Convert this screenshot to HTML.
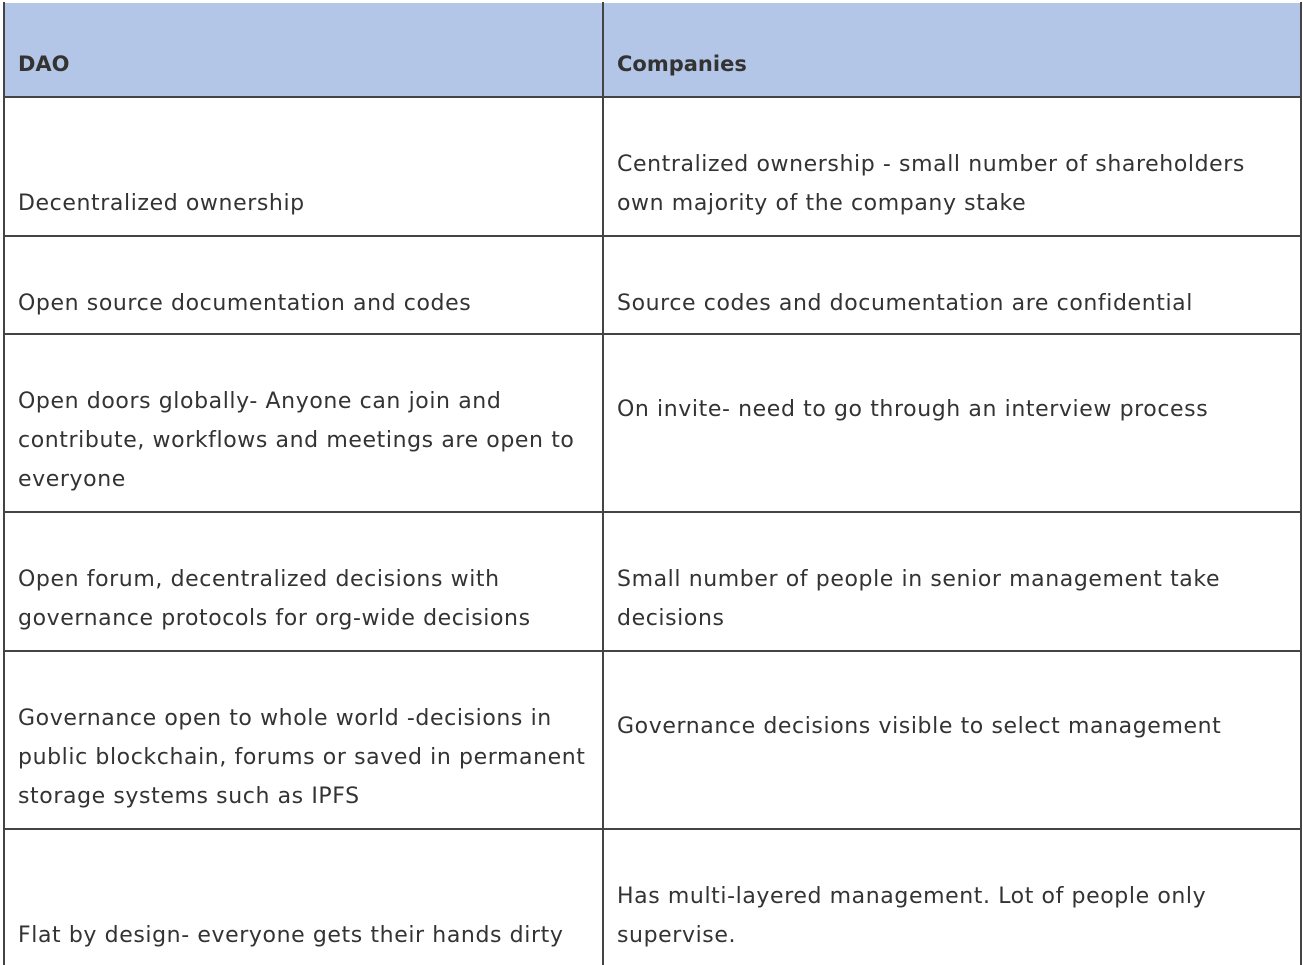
<!DOCTYPE html>
<html><head><meta charset="utf-8"><style>
body{margin:0;width:1303px;height:965px;background:#fff;position:relative;overflow:hidden;font-family:"DejaVu Sans","Liberation Sans",sans-serif;color:#333}
.h{position:absolute;left:4px;width:1298px;height:2px;background:#444}
.v{position:absolute;top:2px;height:963px;width:2px;background:#444}
.t{position:absolute;font-size:22px;line-height:39px;white-space:nowrap;letter-spacing:0.6px}
.b{font-weight:bold;font-size:21px;letter-spacing:0}
</style></head><body>
<div style="position:absolute;left:4px;top:3px;width:1298px;height:94px;background:#b4c6e7"></div>
<div class="h" style="top:96px"></div>
<div class="h" style="top:235px"></div>
<div class="h" style="top:333px"></div>
<div class="h" style="top:511px"></div>
<div class="h" style="top:650px"></div>
<div class="h" style="top:828px"></div>
<div class="v" style="left:3px"></div>
<div class="v" style="left:602px"></div>
<div class="v" style="left:1300px"></div>

<div class="t b" style="left:18px;top:45px">DAO</div>
<div class="t b" style="left:617px;top:45px">Companies</div>

<div class="t" style="left:18px;top:184px">Decentralized ownership</div>
<div class="t" style="left:617px;top:145px">Centralized ownership - small number of shareholders<br>own majority of the company stake</div>

<div class="t" style="left:18px;top:284px">Open source documentation and codes</div>
<div class="t" style="left:617px;top:284px">Source codes and documentation are confidential</div>

<div class="t" style="left:18px;top:382px">Open doors globally- Anyone can join and<br>contribute, workflows and meetings are open to<br>everyone</div>
<div class="t" style="left:617px;top:390px">On invite- need to go through an interview process</div>

<div class="t" style="left:18px;top:560px">Open forum, decentralized decisions with<br>governance protocols for org-wide decisions</div>
<div class="t" style="left:617px;top:560px">Small number of people in senior management take<br>decisions</div>

<div class="t" style="left:18px;top:699px">Governance open to whole world -decisions in<br>public blockchain, forums or saved in permanent<br>storage systems such as IPFS</div>
<div class="t" style="left:617px;top:707px">Governance decisions visible to select management</div>

<div class="t" style="left:18px;top:916px">Flat by design- everyone gets their hands dirty</div>
<div class="t" style="left:617px;top:877px">Has multi-layered management. Lot of people only<br>supervise.</div>
</body></html>
